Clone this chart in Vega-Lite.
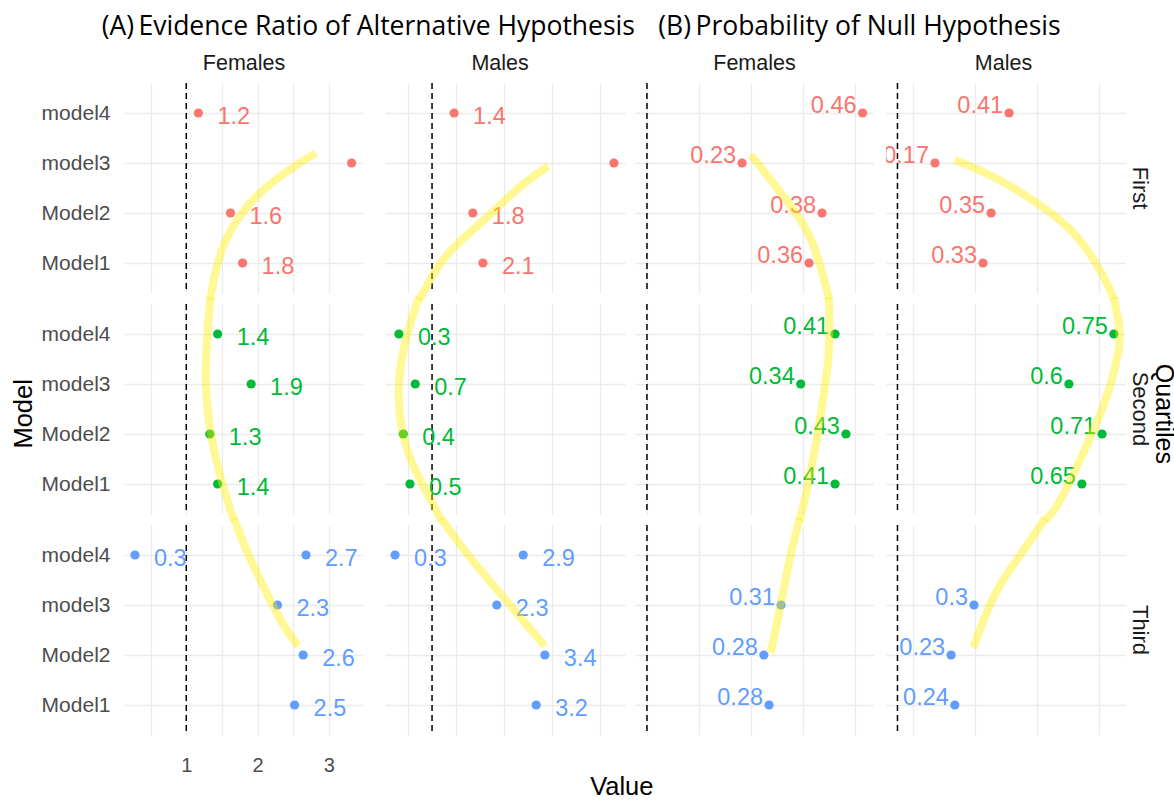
{
  "$schema": "https://vega.github.io/schema/vega-lite/v6.json",
  "background": "white",
  "padding": {"left": 11, "top": 14, "right": 0, "bottom": 0},
  "title": {"text": "Value", "orient": "bottom", "anchor": "middle", "dx": 28, "font": "Liberation Sans", "fontSize": 25.5, "fontWeight": "normal", "color": "#000000", "offset": 0},
  "datasets": {
    "d": [
      {"kind": "pt", "Panel": "A", "Sex": "Females", "Quartile": "First", "Model": "model4", "Value": 1.17, "Label": "1.2"},
      {"kind": "pt", "Panel": "A", "Sex": "Females", "Quartile": "First", "Model": "model3", "Value": 3.32, "Label": "3.3"},
      {"kind": "pt", "Panel": "A", "Sex": "Females", "Quartile": "First", "Model": "Model2", "Value": 1.62, "Label": "1.6"},
      {"kind": "pt", "Panel": "A", "Sex": "Females", "Quartile": "First", "Model": "Model1", "Value": 1.79, "Label": "1.8"},
      {"kind": "pt", "Panel": "A", "Sex": "Females", "Quartile": "Second", "Model": "model4", "Value": 1.44, "Label": "1.4"},
      {"kind": "pt", "Panel": "A", "Sex": "Females", "Quartile": "Second", "Model": "model3", "Value": 1.91, "Label": "1.9"},
      {"kind": "pt", "Panel": "A", "Sex": "Females", "Quartile": "Second", "Model": "Model2", "Value": 1.33, "Label": "1.3"},
      {"kind": "pt", "Panel": "A", "Sex": "Females", "Quartile": "Second", "Model": "Model1", "Value": 1.44, "Label": "1.4"},
      {"kind": "pt", "Panel": "A", "Sex": "Females", "Quartile": "Third", "Model": "model4", "Value": 0.28, "Label": "0.3"},
      {"kind": "pt", "Panel": "A", "Sex": "Females", "Quartile": "Third", "Model": "model4", "Value": 2.68, "Label": "2.7"},
      {"kind": "pt", "Panel": "A", "Sex": "Females", "Quartile": "Third", "Model": "model3", "Value": 2.28, "Label": "2.3"},
      {"kind": "pt", "Panel": "A", "Sex": "Females", "Quartile": "Third", "Model": "Model2", "Value": 2.64, "Label": "2.6"},
      {"kind": "pt", "Panel": "A", "Sex": "Females", "Quartile": "Third", "Model": "Model1", "Value": 2.52, "Label": "2.5"},
      {"kind": "pt", "Panel": "A", "Sex": "Males", "Quartile": "First", "Model": "model4", "Value": 1.46, "Label": "1.4"},
      {"kind": "pt", "Panel": "A", "Sex": "Males", "Quartile": "First", "Model": "model3", "Value": 4.79, "Label": "4.8"},
      {"kind": "pt", "Panel": "A", "Sex": "Males", "Quartile": "First", "Model": "Model2", "Value": 1.85, "Label": "1.8"},
      {"kind": "pt", "Panel": "A", "Sex": "Males", "Quartile": "First", "Model": "Model1", "Value": 2.06, "Label": "2.1"},
      {"kind": "pt", "Panel": "A", "Sex": "Males", "Quartile": "Second", "Model": "model4", "Value": 0.31, "Label": "0.3"},
      {"kind": "pt", "Panel": "A", "Sex": "Males", "Quartile": "Second", "Model": "model3", "Value": 0.65, "Label": "0.7"},
      {"kind": "pt", "Panel": "A", "Sex": "Males", "Quartile": "Second", "Model": "Model2", "Value": 0.40, "Label": "0.4"},
      {"kind": "pt", "Panel": "A", "Sex": "Males", "Quartile": "Second", "Model": "Model1", "Value": 0.54, "Label": "0.5"},
      {"kind": "pt", "Panel": "A", "Sex": "Males", "Quartile": "Third", "Model": "model4", "Value": 0.23, "Label": "0.3"},
      {"kind": "pt", "Panel": "A", "Sex": "Males", "Quartile": "Third", "Model": "model4", "Value": 2.90, "Label": "2.9"},
      {"kind": "pt", "Panel": "A", "Sex": "Males", "Quartile": "Third", "Model": "model3", "Value": 2.35, "Label": "2.3"},
      {"kind": "pt", "Panel": "A", "Sex": "Males", "Quartile": "Third", "Model": "Model2", "Value": 3.35, "Label": "3.4"},
      {"kind": "pt", "Panel": "A", "Sex": "Males", "Quartile": "Third", "Model": "Model1", "Value": 3.17, "Label": "3.2"},
      {"kind": "pt", "Panel": "B", "Sex": "Females", "Quartile": "First", "Model": "model4", "Value": 0.465, "Label": "0.46"},
      {"kind": "pt", "Panel": "B", "Sex": "Females", "Quartile": "First", "Model": "model3", "Value": 0.233, "Label": "0.23"},
      {"kind": "pt", "Panel": "B", "Sex": "Females", "Quartile": "First", "Model": "Model2", "Value": 0.387, "Label": "0.38"},
      {"kind": "pt", "Panel": "B", "Sex": "Females", "Quartile": "First", "Model": "Model1", "Value": 0.362, "Label": "0.36"},
      {"kind": "pt", "Panel": "B", "Sex": "Females", "Quartile": "Second", "Model": "model4", "Value": 0.412, "Label": "0.41"},
      {"kind": "pt", "Panel": "B", "Sex": "Females", "Quartile": "Second", "Model": "model3", "Value": 0.346, "Label": "0.34"},
      {"kind": "pt", "Panel": "B", "Sex": "Females", "Quartile": "Second", "Model": "Model2", "Value": 0.433, "Label": "0.43"},
      {"kind": "pt", "Panel": "B", "Sex": "Females", "Quartile": "Second", "Model": "Model1", "Value": 0.412, "Label": "0.41"},
      {"kind": "pt", "Panel": "B", "Sex": "Females", "Quartile": "Third", "Model": "model3", "Value": 0.308, "Label": "0.31"},
      {"kind": "pt", "Panel": "B", "Sex": "Females", "Quartile": "Third", "Model": "Model2", "Value": 0.275, "Label": "0.28"},
      {"kind": "pt", "Panel": "B", "Sex": "Females", "Quartile": "Third", "Model": "Model1", "Value": 0.285, "Label": "0.28"},
      {"kind": "pt", "Panel": "B", "Sex": "Males", "Quartile": "First", "Model": "model4", "Value": 0.41, "Label": "0.41"},
      {"kind": "pt", "Panel": "B", "Sex": "Males", "Quartile": "First", "Model": "model3", "Value": 0.171, "Label": "0.17"},
      {"kind": "pt", "Panel": "B", "Sex": "Males", "Quartile": "First", "Model": "Model2", "Value": 0.352, "Label": "0.35"},
      {"kind": "pt", "Panel": "B", "Sex": "Males", "Quartile": "First", "Model": "Model1", "Value": 0.326, "Label": "0.33"},
      {"kind": "pt", "Panel": "B", "Sex": "Males", "Quartile": "Second", "Model": "model4", "Value": 0.748, "Label": "0.75"},
      {"kind": "pt", "Panel": "B", "Sex": "Males", "Quartile": "Second", "Model": "model3", "Value": 0.603, "Label": "0.6"},
      {"kind": "pt", "Panel": "B", "Sex": "Males", "Quartile": "Second", "Model": "Model2", "Value": 0.71, "Label": "0.71"},
      {"kind": "pt", "Panel": "B", "Sex": "Males", "Quartile": "Second", "Model": "Model1", "Value": 0.645, "Label": "0.65"},
      {"kind": "pt", "Panel": "B", "Sex": "Males", "Quartile": "Third", "Model": "model3", "Value": 0.297, "Label": "0.3"},
      {"kind": "pt", "Panel": "B", "Sex": "Males", "Quartile": "Third", "Model": "Model2", "Value": 0.223, "Label": "0.23"},
      {"kind": "pt", "Panel": "B", "Sex": "Males", "Quartile": "Third", "Model": "Model1", "Value": 0.235, "Label": "0.24"},

      {"kind": "vl", "Panel": "A", "Sex": "Females", "Quartile": "First", "Ref": 1},
      {"kind": "vl", "Panel": "A", "Sex": "Females", "Quartile": "Second", "Ref": 1},
      {"kind": "vl", "Panel": "A", "Sex": "Females", "Quartile": "Third", "Ref": 1},
      {"kind": "vl", "Panel": "A", "Sex": "Males", "Quartile": "First", "Ref": 1},
      {"kind": "vl", "Panel": "A", "Sex": "Males", "Quartile": "Second", "Ref": 1},
      {"kind": "vl", "Panel": "A", "Sex": "Males", "Quartile": "Third", "Ref": 1},
      {"kind": "vl", "Panel": "B", "Sex": "Females", "Quartile": "First", "Ref": 0.05},
      {"kind": "vl", "Panel": "B", "Sex": "Females", "Quartile": "Second", "Ref": 0.05},
      {"kind": "vl", "Panel": "B", "Sex": "Females", "Quartile": "Third", "Ref": 0.05},
      {"kind": "vl", "Panel": "B", "Sex": "Males", "Quartile": "First", "Ref": 0.05},
      {"kind": "vl", "Panel": "B", "Sex": "Males", "Quartile": "Second", "Ref": 0.05},
      {"kind": "vl", "Panel": "B", "Sex": "Males", "Quartile": "Third", "Ref": 0.05},

      {"kind": "cv", "Panel": "A", "Sex": "Females", "Quartile": "First", "cx": 2.82, "cy": 3.2},
      {"kind": "cv", "Panel": "A", "Sex": "Females", "Quartile": "First", "cx": 2.43, "cy": 2.86},
      {"kind": "cv", "Panel": "A", "Sex": "Females", "Quartile": "First", "cx": 2.01, "cy": 2.4},
      {"kind": "cv", "Panel": "A", "Sex": "Females", "Quartile": "First", "cx": 1.73, "cy": 1.92},
      {"kind": "cv", "Panel": "A", "Sex": "Females", "Quartile": "First", "cx": 1.54, "cy": 1.46},
      {"kind": "cv", "Panel": "A", "Sex": "Females", "Quartile": "First", "cx": 1.42, "cy": 0.92},
      {"kind": "cv", "Panel": "A", "Sex": "Females", "Quartile": "First", "cx": 1.35, "cy": 0.4},
      {"kind": "cv", "Panel": "A", "Sex": "Females", "Quartile": "First", "cx": 1.34, "cy": 0.27},
      {"kind": "cv", "Panel": "A", "Sex": "Females", "Quartile": "Second", "cx": 1.34, "cy": 4.73},
      {"kind": "cv", "Panel": "A", "Sex": "Females", "Quartile": "Second", "cx": 1.29, "cy": 4.0},
      {"kind": "cv", "Panel": "A", "Sex": "Females", "Quartile": "Second", "cx": 1.26, "cy": 3.02},
      {"kind": "cv", "Panel": "A", "Sex": "Females", "Quartile": "Second", "cx": 1.32, "cy": 2.12},
      {"kind": "cv", "Panel": "A", "Sex": "Females", "Quartile": "Second", "cx": 1.44, "cy": 1.32},
      {"kind": "cv", "Panel": "A", "Sex": "Females", "Quartile": "Second", "cx": 1.61, "cy": 0.52},
      {"kind": "cv", "Panel": "A", "Sex": "Females", "Quartile": "Second", "cx": 1.67, "cy": 0.27},
      {"kind": "cv", "Panel": "A", "Sex": "Females", "Quartile": "Third", "cx": 1.67, "cy": 4.73},
      {"kind": "cv", "Panel": "A", "Sex": "Females", "Quartile": "Third", "cx": 1.87, "cy": 3.98},
      {"kind": "cv", "Panel": "A", "Sex": "Females", "Quartile": "Third", "cx": 2.15, "cy": 3.18},
      {"kind": "cv", "Panel": "A", "Sex": "Females", "Quartile": "Third", "cx": 2.36, "cy": 2.58},
      {"kind": "cv", "Panel": "A", "Sex": "Females", "Quartile": "Third", "cx": 2.57, "cy": 2.18},

      {"kind": "cv", "Panel": "A", "Sex": "Males", "Quartile": "First", "cx": 3.42, "cy": 2.94},
      {"kind": "cv", "Panel": "A", "Sex": "Males", "Quartile": "First", "cx": 3.0, "cy": 2.66},
      {"kind": "cv", "Panel": "A", "Sex": "Males", "Quartile": "First", "cx": 2.58, "cy": 2.32},
      {"kind": "cv", "Panel": "A", "Sex": "Males", "Quartile": "First", "cx": 2.1, "cy": 1.86},
      {"kind": "cv", "Panel": "A", "Sex": "Males", "Quartile": "First", "cx": 1.6, "cy": 1.46},
      {"kind": "cv", "Panel": "A", "Sex": "Males", "Quartile": "First", "cx": 1.19, "cy": 1.06},
      {"kind": "cv", "Panel": "A", "Sex": "Males", "Quartile": "First", "cx": 0.81, "cy": 0.4},
      {"kind": "cv", "Panel": "A", "Sex": "Males", "Quartile": "First", "cx": 0.73, "cy": 0.27},
      {"kind": "cv", "Panel": "A", "Sex": "Males", "Quartile": "Second", "cx": 0.73, "cy": 4.73},
      {"kind": "cv", "Panel": "A", "Sex": "Males", "Quartile": "Second", "cx": 0.46, "cy": 4.0},
      {"kind": "cv", "Panel": "A", "Sex": "Males", "Quartile": "Second", "cx": 0.27, "cy": 3.02},
      {"kind": "cv", "Panel": "A", "Sex": "Males", "Quartile": "Second", "cx": 0.33, "cy": 2.12},
      {"kind": "cv", "Panel": "A", "Sex": "Males", "Quartile": "Second", "cx": 0.6, "cy": 1.32},
      {"kind": "cv", "Panel": "A", "Sex": "Males", "Quartile": "Second", "cx": 1.02, "cy": 0.62},
      {"kind": "cv", "Panel": "A", "Sex": "Males", "Quartile": "Second", "cx": 1.19, "cy": 0.27},
      {"kind": "cv", "Panel": "A", "Sex": "Males", "Quartile": "Third", "cx": 1.19, "cy": 4.73},
      {"kind": "cv", "Panel": "A", "Sex": "Males", "Quartile": "Third", "cx": 1.75, "cy": 3.98},
      {"kind": "cv", "Panel": "A", "Sex": "Males", "Quartile": "Third", "cx": 2.38, "cy": 3.28},
      {"kind": "cv", "Panel": "A", "Sex": "Males", "Quartile": "Third", "cx": 2.9, "cy": 2.68},
      {"kind": "cv", "Panel": "A", "Sex": "Males", "Quartile": "Third", "cx": 3.35, "cy": 2.18},

      {"kind": "cv", "Panel": "B", "Sex": "Females", "Quartile": "First", "cx": 0.25, "cy": 3.16},
      {"kind": "cv", "Panel": "B", "Sex": "Females", "Quartile": "First", "cx": 0.273, "cy": 2.86},
      {"kind": "cv", "Panel": "B", "Sex": "Females", "Quartile": "First", "cx": 0.304, "cy": 2.46},
      {"kind": "cv", "Panel": "B", "Sex": "Females", "Quartile": "First", "cx": 0.337, "cy": 2.0},
      {"kind": "cv", "Panel": "B", "Sex": "Females", "Quartile": "First", "cx": 0.362, "cy": 1.6},
      {"kind": "cv", "Panel": "B", "Sex": "Females", "Quartile": "First", "cx": 0.381, "cy": 1.06},
      {"kind": "cv", "Panel": "B", "Sex": "Females", "Quartile": "First", "cx": 0.398, "cy": 0.4},
      {"kind": "cv", "Panel": "B", "Sex": "Females", "Quartile": "First", "cx": 0.4, "cy": 0.27},
      {"kind": "cv", "Panel": "B", "Sex": "Females", "Quartile": "Second", "cx": 0.4, "cy": 4.73},
      {"kind": "cv", "Panel": "B", "Sex": "Females", "Quartile": "Second", "cx": 0.402, "cy": 4.12},
      {"kind": "cv", "Panel": "B", "Sex": "Females", "Quartile": "Second", "cx": 0.4, "cy": 3.46},
      {"kind": "cv", "Panel": "B", "Sex": "Females", "Quartile": "Second", "cx": 0.39, "cy": 2.78},
      {"kind": "cv", "Panel": "B", "Sex": "Females", "Quartile": "Second", "cx": 0.381, "cy": 2.12},
      {"kind": "cv", "Panel": "B", "Sex": "Females", "Quartile": "Second", "cx": 0.369, "cy": 1.46},
      {"kind": "cv", "Panel": "B", "Sex": "Females", "Quartile": "Second", "cx": 0.356, "cy": 0.78},
      {"kind": "cv", "Panel": "B", "Sex": "Females", "Quartile": "Second", "cx": 0.344, "cy": 0.27},
      {"kind": "cv", "Panel": "B", "Sex": "Females", "Quartile": "Third", "cx": 0.344, "cy": 4.73},
      {"kind": "cv", "Panel": "B", "Sex": "Females", "Quartile": "Third", "cx": 0.323, "cy": 3.88},
      {"kind": "cv", "Panel": "B", "Sex": "Females", "Quartile": "Third", "cx": 0.308, "cy": 3.02},
      {"kind": "cv", "Panel": "B", "Sex": "Females", "Quartile": "Third", "cx": 0.288, "cy": 2.04},

      {"kind": "cv", "Panel": "B", "Sex": "Males", "Quartile": "First", "cx": 0.235, "cy": 3.06},
      {"kind": "cv", "Panel": "B", "Sex": "Males", "Quartile": "First", "cx": 0.332, "cy": 2.82},
      {"kind": "cv", "Panel": "B", "Sex": "Males", "Quartile": "First", "cx": 0.439, "cy": 2.46},
      {"kind": "cv", "Panel": "B", "Sex": "Males", "Quartile": "First", "cx": 0.548, "cy": 2.0},
      {"kind": "cv", "Panel": "B", "Sex": "Males", "Quartile": "First", "cx": 0.623, "cy": 1.6},
      {"kind": "cv", "Panel": "B", "Sex": "Males", "Quartile": "First", "cx": 0.687, "cy": 1.06},
      {"kind": "cv", "Panel": "B", "Sex": "Males", "Quartile": "First", "cx": 0.742, "cy": 0.4},
      {"kind": "cv", "Panel": "B", "Sex": "Males", "Quartile": "First", "cx": 0.748, "cy": 0.27},
      {"kind": "cv", "Panel": "B", "Sex": "Males", "Quartile": "Second", "cx": 0.748, "cy": 4.73},
      {"kind": "cv", "Panel": "B", "Sex": "Males", "Quartile": "Second", "cx": 0.768, "cy": 4.12},
      {"kind": "cv", "Panel": "B", "Sex": "Males", "Quartile": "Second", "cx": 0.768, "cy": 3.78},
      {"kind": "cv", "Panel": "B", "Sex": "Males", "Quartile": "Second", "cx": 0.745, "cy": 3.12},
      {"kind": "cv", "Panel": "B", "Sex": "Males", "Quartile": "Second", "cx": 0.71, "cy": 2.46},
      {"kind": "cv", "Panel": "B", "Sex": "Males", "Quartile": "Second", "cx": 0.661, "cy": 1.78},
      {"kind": "cv", "Panel": "B", "Sex": "Males", "Quartile": "Second", "cx": 0.613, "cy": 1.12},
      {"kind": "cv", "Panel": "B", "Sex": "Males", "Quartile": "Second", "cx": 0.558, "cy": 0.46},
      {"kind": "cv", "Panel": "B", "Sex": "Males", "Quartile": "Second", "cx": 0.526, "cy": 0.27},
      {"kind": "cv", "Panel": "B", "Sex": "Males", "Quartile": "Third", "cx": 0.526, "cy": 4.73},
      {"kind": "cv", "Panel": "B", "Sex": "Males", "Quartile": "Third", "cx": 0.445, "cy": 3.98},
      {"kind": "cv", "Panel": "B", "Sex": "Males", "Quartile": "Third", "cx": 0.374, "cy": 3.38},
      {"kind": "cv", "Panel": "B", "Sex": "Males", "Quartile": "Third", "cx": 0.326, "cy": 2.68},
      {"kind": "cv", "Panel": "B", "Sex": "Males", "Quartile": "Third", "cx": 0.294, "cy": 2.14}
    ]
  },
  "data": {"name": "d"},
  "spacing": -2,
  "resolve": {"scale": {"x": "independent", "y": "independent"}, "axis": {"x": "independent", "y": "independent"}},
  "hconcat": [
    {
      "title": {"text": "(A)\u2009Evidence Ratio of Alternative Hypothesis", "anchor": "middle", "dx": 50, "offset": 12},
      "spacing": 12,
      "resolve": {"scale": {"x": "independent", "y": "independent"}, "axis": {"x": "independent", "y": "independent"}},
      "hconcat": [
        {
          "title": {"text": "Model", "orient": "left", "anchor": "middle", "font": "Liberation Sans", "fontSize": 25.5, "offset": 4},
          "resolve": {"scale": {"x": "independent", "y": "independent"}, "axis": {"x": "independent", "y": "independent"}},
          "hconcat": [
            {
              "title": {"text": "Females", "anchor": "middle", "dx": 42, "font": "Liberation Sans", "fontSize": 21.5, "color": "#1a1a1a", "offset": 8},
              "spacing": -16,
              "resolve": {"scale": {"x": "independent", "y": "independent"}, "axis": {"x": "independent", "y": "independent"}},
              "vconcat": [
                {
                  "width": 239, "height": 210,
                  "transform": [{"filter": "datum.Panel === 'A' && datum.Sex === 'Females' && datum.Quartile === 'First'"}],
                  "layer": [
                    {"transform": [{"filter": "datum.kind === 'vl'"}], "mark": {"type": "rule", "color": "#000000", "strokeDash": [6, 4], "strokeWidth": 1.5},
                     "encoding": {"x": {"field": "Ref", "type": "quantitative", "scale": {"domain": [0.126, 3.48], "nice": false, "zero": false}, "axis": {"title": null, "values": [0.5, 1, 1.5, 2, 2.5, 3], "labels": false, "grid": true}}}},
                    {"transform": [{"filter": "datum.kind === 'pt'"}], "mark": {"type": "circle", "size": 85, "opacity": 1},
                     "encoding": {"x": {"field": "Value", "type": "quantitative", "axis": {"title": null}}, "y": {"field": "Model", "type": "nominal", "scale": {"type": "point", "padding": 0.6, "domain": ["model4", "model3", "Model2", "Model1"]}, "axis": {"title": null, "grid": true, "labelPadding": 14}}, "color": {"field": "Quartile", "type": "nominal", "scale": {"domain": ["First", "Second", "Third"], "range": ["#F8766D", "#00BA38", "#619CFF"]}, "legend": null}}},
                    {"transform": [{"filter": "datum.kind === 'pt'"}], "mark": {"type": "text", "align": "left", "baseline": "middle", "dx": 19, "dy": 4, "fontSize": 23.5, "clip": true},
                     "encoding": {"x": {"field": "Value", "type": "quantitative", "axis": {"title": null}}, "y": {"field": "Model", "type": "nominal", "scale": {"type": "point", "padding": 0.6, "domain": ["model4", "model3", "Model2", "Model1"]}, "axis": null}, "text": {"field": "Label"}, "color": {"field": "Quartile", "type": "nominal", "scale": {"domain": ["First", "Second", "Third"], "range": ["#F8766D", "#00BA38", "#619CFF"]}, "legend": null}}},
                    {"transform": [{"filter": "datum.kind === 'cv'"}], "mark": {"type": "line", "interpolate": "basis", "color": "#ffee00", "opacity": 0.42, "strokeWidth": 8, "strokeCap": "butt", "strokeJoin": "round", "clip": false},
                     "encoding": {"x": {"field": "cx", "type": "quantitative", "axis": {"title": null}}, "y": {"field": "cy", "type": "quantitative", "scale": {"domain": [0.4, 4.6], "nice": false, "zero": false}, "axis": null}, "order": {"field": "cy", "sort": "descending"}}}
                  ],
                  "resolve": {"scale": {"y": "independent"}, "axis": {"y": "independent"}}
                },
                {
                  "width": 239, "height": 210,
                  "transform": [{"filter": "datum.Panel === 'A' && datum.Sex === 'Females' && datum.Quartile === 'Second'"}],
                  "layer": [
                    {"transform": [{"filter": "datum.kind === 'vl'"}], "mark": {"type": "rule", "color": "#000000", "strokeDash": [6, 4], "strokeWidth": 1.5},
                     "encoding": {"x": {"field": "Ref", "type": "quantitative", "scale": {"domain": [0.126, 3.48], "nice": false, "zero": false}, "axis": {"title": null, "values": [0.5, 1, 1.5, 2, 2.5, 3], "labels": false, "grid": true}}}},
                    {"transform": [{"filter": "datum.kind === 'pt'"}], "mark": {"type": "circle", "size": 85, "opacity": 1},
                     "encoding": {"x": {"field": "Value", "type": "quantitative", "axis": {"title": null}}, "y": {"field": "Model", "type": "nominal", "scale": {"type": "point", "padding": 0.6, "domain": ["model4", "model3", "Model2", "Model1"]}, "axis": {"title": null, "grid": true, "labelPadding": 14}}, "color": {"field": "Quartile", "type": "nominal", "scale": {"domain": ["First", "Second", "Third"], "range": ["#F8766D", "#00BA38", "#619CFF"]}, "legend": null}}},
                    {"transform": [{"filter": "datum.kind === 'pt'"}], "mark": {"type": "text", "align": "left", "baseline": "middle", "dx": 19, "dy": 4, "fontSize": 23.5, "clip": true},
                     "encoding": {"x": {"field": "Value", "type": "quantitative", "axis": {"title": null}}, "y": {"field": "Model", "type": "nominal", "scale": {"type": "point", "padding": 0.6, "domain": ["model4", "model3", "Model2", "Model1"]}, "axis": null}, "text": {"field": "Label"}, "color": {"field": "Quartile", "type": "nominal", "scale": {"domain": ["First", "Second", "Third"], "range": ["#F8766D", "#00BA38", "#619CFF"]}, "legend": null}}},
                    {"transform": [{"filter": "datum.kind === 'cv'"}], "mark": {"type": "line", "interpolate": "basis", "color": "#ffee00", "opacity": 0.42, "strokeWidth": 8, "strokeCap": "butt", "strokeJoin": "round", "clip": false},
                     "encoding": {"x": {"field": "cx", "type": "quantitative", "axis": {"title": null}}, "y": {"field": "cy", "type": "quantitative", "scale": {"domain": [0.4, 4.6], "nice": false, "zero": false}, "axis": null}, "order": {"field": "cy", "sort": "descending"}}}
                  ],
                  "resolve": {"scale": {"y": "independent"}, "axis": {"y": "independent"}}
                },
                {
                  "width": 239, "height": 210,
                  "transform": [{"filter": "datum.Panel === 'A' && datum.Sex === 'Females' && datum.Quartile === 'Third'"}],
                  "layer": [
                    {"transform": [{"filter": "datum.kind === 'vl'"}], "mark": {"type": "rule", "color": "#000000", "strokeDash": [6, 4], "strokeWidth": 1.5},
                     "encoding": {"x": {"field": "Ref", "type": "quantitative", "scale": {"domain": [0.126, 3.48], "nice": false, "zero": false}, "axis": {"title": null, "values": [0.5, 1, 1.5, 2, 2.5, 3], "labelExpr": "datum.value % 1 === 0 ? format(datum.value, 'd') : ''", "labelOverlap": false, "grid": true}}}},
                    {"transform": [{"filter": "datum.kind === 'pt'"}], "mark": {"type": "circle", "size": 85, "opacity": 1},
                     "encoding": {"x": {"field": "Value", "type": "quantitative", "axis": {"title": null}}, "y": {"field": "Model", "type": "nominal", "scale": {"type": "point", "padding": 0.6, "domain": ["model4", "model3", "Model2", "Model1"]}, "axis": {"title": null, "grid": true, "labelPadding": 14}}, "color": {"field": "Quartile", "type": "nominal", "scale": {"domain": ["First", "Second", "Third"], "range": ["#F8766D", "#00BA38", "#619CFF"]}, "legend": null}}},
                    {"transform": [{"filter": "datum.kind === 'pt'"}], "mark": {"type": "text", "align": "left", "baseline": "middle", "dx": 19, "dy": 4, "fontSize": 23.5, "clip": true},
                     "encoding": {"x": {"field": "Value", "type": "quantitative", "axis": {"title": null}}, "y": {"field": "Model", "type": "nominal", "scale": {"type": "point", "padding": 0.6, "domain": ["model4", "model3", "Model2", "Model1"]}, "axis": null}, "text": {"field": "Label"}, "color": {"field": "Quartile", "type": "nominal", "scale": {"domain": ["First", "Second", "Third"], "range": ["#F8766D", "#00BA38", "#619CFF"]}, "legend": null}}},
                    {"transform": [{"filter": "datum.kind === 'cv'"}], "mark": {"type": "line", "interpolate": "basis", "color": "#ffee00", "opacity": 0.42, "strokeWidth": 8, "strokeCap": "butt", "strokeJoin": "round", "clip": false},
                     "encoding": {"x": {"field": "cx", "type": "quantitative", "axis": {"title": null}}, "y": {"field": "cy", "type": "quantitative", "scale": {"domain": [0.4, 4.6], "nice": false, "zero": false}, "axis": null}, "order": {"field": "cy", "sort": "descending"}}}
                  ],
                  "resolve": {"scale": {"y": "independent"}, "axis": {"y": "independent"}}
                }
              ]
            }
          ]
        },
        {
          "title": {"text": "Males", "anchor": "middle", "font": "Liberation Sans", "fontSize": 21.5, "color": "#1a1a1a", "offset": 8},
          "spacing": -16,
          "resolve": {"scale": {"x": "independent", "y": "independent"}, "axis": {"x": "independent", "y": "independent"}},
          "vconcat": [
            {
              "width": 240, "height": 210,
              "transform": [{"filter": "datum.Panel === 'A' && datum.Sex === 'Males' && datum.Quartile === 'First'"}],
              "layer": [
                {"transform": [{"filter": "datum.kind === 'vl'"}], "mark": {"type": "rule", "color": "#000000", "strokeDash": [6, 4], "strokeWidth": 1.5},
                 "encoding": {"x": {"field": "Ref", "type": "quantitative", "scale": {"domain": [0.02, 5.02], "nice": false, "zero": false}, "axis": {"title": null, "values": [0.5, 1, 1.5, 2, 2.5, 3, 3.5, 4, 4.5], "labels": false, "grid": true}}}},
                {"transform": [{"filter": "datum.kind === 'pt'"}], "mark": {"type": "circle", "size": 85, "opacity": 1},
                 "encoding": {"x": {"field": "Value", "type": "quantitative", "axis": {"title": null}}, "y": {"field": "Model", "type": "nominal", "scale": {"type": "point", "padding": 0.6, "domain": ["model4", "model3", "Model2", "Model1"]}, "axis": {"title": null, "grid": true, "labelColor": "#ffffff", "labelFontSize": 3, "labelPadding": 0}}, "color": {"field": "Quartile", "type": "nominal", "scale": {"domain": ["First", "Second", "Third"], "range": ["#F8766D", "#00BA38", "#619CFF"]}, "legend": null}}},
                {"transform": [{"filter": "datum.kind === 'pt'"}], "mark": {"type": "text", "align": "left", "baseline": "middle", "dx": 19, "dy": 4, "fontSize": 23.5, "clip": true},
                 "encoding": {"x": {"field": "Value", "type": "quantitative", "axis": {"title": null}}, "y": {"field": "Model", "type": "nominal", "scale": {"type": "point", "padding": 0.6, "domain": ["model4", "model3", "Model2", "Model1"]}, "axis": null}, "text": {"field": "Label"}, "color": {"field": "Quartile", "type": "nominal", "scale": {"domain": ["First", "Second", "Third"], "range": ["#F8766D", "#00BA38", "#619CFF"]}, "legend": null}}},
                {"transform": [{"filter": "datum.kind === 'cv'"}], "mark": {"type": "line", "interpolate": "basis", "color": "#ffee00", "opacity": 0.42, "strokeWidth": 8, "strokeCap": "butt", "strokeJoin": "round", "clip": false},
                 "encoding": {"x": {"field": "cx", "type": "quantitative", "axis": {"title": null}}, "y": {"field": "cy", "type": "quantitative", "scale": {"domain": [0.4, 4.6], "nice": false, "zero": false}, "axis": null}, "order": {"field": "cy", "sort": "descending"}}}
              ],
              "resolve": {"scale": {"y": "independent"}, "axis": {"y": "independent"}}
            },
            {
              "width": 240, "height": 210,
              "transform": [{"filter": "datum.Panel === 'A' && datum.Sex === 'Males' && datum.Quartile === 'Second'"}],
              "layer": [
                {"transform": [{"filter": "datum.kind === 'vl'"}], "mark": {"type": "rule", "color": "#000000", "strokeDash": [6, 4], "strokeWidth": 1.5},
                 "encoding": {"x": {"field": "Ref", "type": "quantitative", "scale": {"domain": [0.02, 5.02], "nice": false, "zero": false}, "axis": {"title": null, "values": [0.5, 1, 1.5, 2, 2.5, 3, 3.5, 4, 4.5], "labels": false, "grid": true}}}},
                {"transform": [{"filter": "datum.kind === 'pt'"}], "mark": {"type": "circle", "size": 85, "opacity": 1},
                 "encoding": {"x": {"field": "Value", "type": "quantitative", "axis": {"title": null}}, "y": {"field": "Model", "type": "nominal", "scale": {"type": "point", "padding": 0.6, "domain": ["model4", "model3", "Model2", "Model1"]}, "axis": {"title": null, "grid": true, "labelColor": "#ffffff", "labelFontSize": 3, "labelPadding": 0}}, "color": {"field": "Quartile", "type": "nominal", "scale": {"domain": ["First", "Second", "Third"], "range": ["#F8766D", "#00BA38", "#619CFF"]}, "legend": null}}},
                {"transform": [{"filter": "datum.kind === 'pt'"}], "mark": {"type": "text", "align": "left", "baseline": "middle", "dx": 19, "dy": 4, "fontSize": 23.5, "clip": true},
                 "encoding": {"x": {"field": "Value", "type": "quantitative", "axis": {"title": null}}, "y": {"field": "Model", "type": "nominal", "scale": {"type": "point", "padding": 0.6, "domain": ["model4", "model3", "Model2", "Model1"]}, "axis": null}, "text": {"field": "Label"}, "color": {"field": "Quartile", "type": "nominal", "scale": {"domain": ["First", "Second", "Third"], "range": ["#F8766D", "#00BA38", "#619CFF"]}, "legend": null}}},
                {"transform": [{"filter": "datum.kind === 'cv'"}], "mark": {"type": "line", "interpolate": "basis", "color": "#ffee00", "opacity": 0.42, "strokeWidth": 8, "strokeCap": "butt", "strokeJoin": "round", "clip": false},
                 "encoding": {"x": {"field": "cx", "type": "quantitative", "axis": {"title": null}}, "y": {"field": "cy", "type": "quantitative", "scale": {"domain": [0.4, 4.6], "nice": false, "zero": false}, "axis": null}, "order": {"field": "cy", "sort": "descending"}}}
              ],
              "resolve": {"scale": {"y": "independent"}, "axis": {"y": "independent"}}
            },
            {
              "width": 240, "height": 210,
              "transform": [{"filter": "datum.Panel === 'A' && datum.Sex === 'Males' && datum.Quartile === 'Third'"}],
              "layer": [
                {"transform": [{"filter": "datum.kind === 'vl'"}], "mark": {"type": "rule", "color": "#000000", "strokeDash": [6, 4], "strokeWidth": 1.5},
                 "encoding": {"x": {"field": "Ref", "type": "quantitative", "scale": {"domain": [0.02, 5.02], "nice": false, "zero": false}, "axis": {"title": null, "values": [0.5, 1, 1.5, 2, 2.5, 3, 3.5, 4, 4.5], "labelExpr": "datum.value % 1 === 0 ? format(datum.value, 'd') : ''", "labelOverlap": false, "grid": true}}}},
                {"transform": [{"filter": "datum.kind === 'pt'"}], "mark": {"type": "circle", "size": 85, "opacity": 1},
                 "encoding": {"x": {"field": "Value", "type": "quantitative", "axis": {"title": null}}, "y": {"field": "Model", "type": "nominal", "scale": {"type": "point", "padding": 0.6, "domain": ["model4", "model3", "Model2", "Model1"]}, "axis": {"title": null, "grid": true, "labelColor": "#ffffff", "labelFontSize": 3, "labelPadding": 0}}, "color": {"field": "Quartile", "type": "nominal", "scale": {"domain": ["First", "Second", "Third"], "range": ["#F8766D", "#00BA38", "#619CFF"]}, "legend": null}}},
                {"transform": [{"filter": "datum.kind === 'pt'"}], "mark": {"type": "text", "align": "left", "baseline": "middle", "dx": 19, "dy": 4, "fontSize": 23.5, "clip": true},
                 "encoding": {"x": {"field": "Value", "type": "quantitative", "axis": {"title": null}}, "y": {"field": "Model", "type": "nominal", "scale": {"type": "point", "padding": 0.6, "domain": ["model4", "model3", "Model2", "Model1"]}, "axis": null}, "text": {"field": "Label"}, "color": {"field": "Quartile", "type": "nominal", "scale": {"domain": ["First", "Second", "Third"], "range": ["#F8766D", "#00BA38", "#619CFF"]}, "legend": null}}},
                {"transform": [{"filter": "datum.kind === 'cv'"}], "mark": {"type": "line", "interpolate": "basis", "color": "#ffee00", "opacity": 0.42, "strokeWidth": 8, "strokeCap": "butt", "strokeJoin": "round", "clip": false},
                 "encoding": {"x": {"field": "cx", "type": "quantitative", "axis": {"title": null}}, "y": {"field": "cy", "type": "quantitative", "scale": {"domain": [0.4, 4.6], "nice": false, "zero": false}, "axis": null}, "order": {"field": "cy", "sort": "descending"}}}
              ],
              "resolve": {"scale": {"y": "independent"}, "axis": {"y": "independent"}}
            }
          ]
        }
      ]
    },
    {
      "title": {"text": "(B)\u2009Probability of Null Hypothesis", "anchor": "middle", "dx": -46, "offset": 12},
      "spacing": 12,
      "resolve": {"scale": {"x": "independent", "y": "independent"}, "axis": {"x": "independent", "y": "independent"}},
      "hconcat": [
        {
          "title": {"text": "Females", "anchor": "middle", "font": "Liberation Sans", "fontSize": 21.5, "color": "#1a1a1a", "offset": 8},
          "spacing": -16,
          "resolve": {"scale": {"x": "independent", "y": "independent"}, "axis": {"x": "independent", "y": "independent"}},
          "vconcat": [
            {
              "width": 239, "height": 210,
              "transform": [{"filter": "datum.Panel === 'B' && datum.Sex === 'Females' && datum.Quartile === 'First'"}],
              "layer": [
                {"transform": [{"filter": "datum.kind === 'vl'"}], "mark": {"type": "rule", "color": "#000000", "strokeDash": [6, 4], "strokeWidth": 1.5},
                 "encoding": {"x": {"field": "Ref", "type": "quantitative", "scale": {"domain": [0.027, 0.487], "nice": false, "zero": false}, "axis": {"title": null, "values": [0.05, 0.1, 0.15, 0.2, 0.25, 0.3, 0.35, 0.4, 0.45], "labels": false, "grid": true}}}},
                {"transform": [{"filter": "datum.kind === 'pt'"}], "mark": {"type": "circle", "size": 85, "opacity": 1},
                 "encoding": {"x": {"field": "Value", "type": "quantitative", "axis": {"title": null}}, "y": {"field": "Model", "type": "nominal", "scale": {"type": "point", "padding": 0.6, "domain": ["model4", "model3", "Model2", "Model1"]}, "axis": {"title": null, "grid": true, "labelExpr": "''", "labelPadding": 0}}, "color": {"field": "Quartile", "type": "nominal", "scale": {"domain": ["First", "Second", "Third"], "range": ["#F8766D", "#00BA38", "#619CFF"]}, "legend": null}}},
                {"transform": [{"filter": "datum.kind === 'pt'"}], "mark": {"type": "text", "align": "right", "baseline": "middle", "dx": -6, "dy": -7, "fontSize": 23.5, "clip": true},
                 "encoding": {"x": {"field": "Value", "type": "quantitative", "axis": {"title": null}}, "y": {"field": "Model", "type": "nominal", "scale": {"type": "point", "padding": 0.6, "domain": ["model4", "model3", "Model2", "Model1"]}, "axis": null}, "text": {"field": "Label"}, "color": {"field": "Quartile", "type": "nominal", "scale": {"domain": ["First", "Second", "Third"], "range": ["#F8766D", "#00BA38", "#619CFF"]}, "legend": null}}},
                {"transform": [{"filter": "datum.kind === 'cv'"}], "mark": {"type": "line", "interpolate": "basis", "color": "#ffee00", "opacity": 0.42, "strokeWidth": 8, "strokeCap": "butt", "strokeJoin": "round", "clip": false},
                 "encoding": {"x": {"field": "cx", "type": "quantitative", "axis": {"title": null}}, "y": {"field": "cy", "type": "quantitative", "scale": {"domain": [0.4, 4.6], "nice": false, "zero": false}, "axis": null}, "order": {"field": "cy", "sort": "descending"}}}
              ],
              "resolve": {"scale": {"y": "independent"}, "axis": {"y": "independent"}}
            },
            {
              "width": 239, "height": 210,
              "transform": [{"filter": "datum.Panel === 'B' && datum.Sex === 'Females' && datum.Quartile === 'Second'"}],
              "layer": [
                {"transform": [{"filter": "datum.kind === 'vl'"}], "mark": {"type": "rule", "color": "#000000", "strokeDash": [6, 4], "strokeWidth": 1.5},
                 "encoding": {"x": {"field": "Ref", "type": "quantitative", "scale": {"domain": [0.027, 0.487], "nice": false, "zero": false}, "axis": {"title": null, "values": [0.05, 0.1, 0.15, 0.2, 0.25, 0.3, 0.35, 0.4, 0.45], "labels": false, "grid": true}}}},
                {"transform": [{"filter": "datum.kind === 'pt'"}], "mark": {"type": "circle", "size": 85, "opacity": 1},
                 "encoding": {"x": {"field": "Value", "type": "quantitative", "axis": {"title": null}}, "y": {"field": "Model", "type": "nominal", "scale": {"type": "point", "padding": 0.6, "domain": ["model4", "model3", "Model2", "Model1"]}, "axis": {"title": null, "grid": true, "labelExpr": "''", "labelPadding": 0}}, "color": {"field": "Quartile", "type": "nominal", "scale": {"domain": ["First", "Second", "Third"], "range": ["#F8766D", "#00BA38", "#619CFF"]}, "legend": null}}},
                {"transform": [{"filter": "datum.kind === 'pt'"}], "mark": {"type": "text", "align": "right", "baseline": "middle", "dx": -6, "dy": -7, "fontSize": 23.5, "clip": true},
                 "encoding": {"x": {"field": "Value", "type": "quantitative", "axis": {"title": null}}, "y": {"field": "Model", "type": "nominal", "scale": {"type": "point", "padding": 0.6, "domain": ["model4", "model3", "Model2", "Model1"]}, "axis": null}, "text": {"field": "Label"}, "color": {"field": "Quartile", "type": "nominal", "scale": {"domain": ["First", "Second", "Third"], "range": ["#F8766D", "#00BA38", "#619CFF"]}, "legend": null}}},
                {"transform": [{"filter": "datum.kind === 'cv'"}], "mark": {"type": "line", "interpolate": "basis", "color": "#ffee00", "opacity": 0.42, "strokeWidth": 8, "strokeCap": "butt", "strokeJoin": "round", "clip": false},
                 "encoding": {"x": {"field": "cx", "type": "quantitative", "axis": {"title": null}}, "y": {"field": "cy", "type": "quantitative", "scale": {"domain": [0.4, 4.6], "nice": false, "zero": false}, "axis": null}, "order": {"field": "cy", "sort": "descending"}}}
              ],
              "resolve": {"scale": {"y": "independent"}, "axis": {"y": "independent"}}
            },
            {
              "width": 239, "height": 210,
              "transform": [{"filter": "datum.Panel === 'B' && datum.Sex === 'Females' && datum.Quartile === 'Third'"}],
              "layer": [
                {"transform": [{"filter": "datum.kind === 'vl'"}], "mark": {"type": "rule", "color": "#000000", "strokeDash": [6, 4], "strokeWidth": 1.5},
                 "encoding": {"x": {"field": "Ref", "type": "quantitative", "scale": {"domain": [0.027, 0.487], "nice": false, "zero": false}, "axis": {"title": null}}}},
                {"transform": [{"filter": "datum.kind === 'pt'"}], "mark": {"type": "circle", "size": 85, "opacity": 1},
                 "encoding": {"x": {"field": "Value", "type": "quantitative", "axis": {"title": null, "values": [0.05, 0.1, 0.15, 0.2, 0.25, 0.3, 0.35, 0.4, 0.45], "labelExpr": "abs(datum.value * 10 - round(datum.value * 10)) < 0.000001 ? format(datum.value, '.1f') : ''", "labelOverlap": false, "grid": true}}, "y": {"field": "Model", "type": "nominal", "scale": {"type": "point", "padding": 0.6, "domain": ["model4", "model3", "Model2", "Model1"]}, "axis": {"title": null, "grid": true, "labelExpr": "''", "labelPadding": 0}}, "color": {"field": "Quartile", "type": "nominal", "scale": {"domain": ["First", "Second", "Third"], "range": ["#F8766D", "#00BA38", "#619CFF"]}, "legend": null}}},
                {"transform": [{"filter": "datum.kind === 'pt'"}], "mark": {"type": "text", "align": "right", "baseline": "middle", "dx": -6, "dy": -7, "fontSize": 23.5, "clip": true},
                 "encoding": {"x": {"field": "Value", "type": "quantitative", "axis": {"title": null}}, "y": {"field": "Model", "type": "nominal", "scale": {"type": "point", "padding": 0.6, "domain": ["model4", "model3", "Model2", "Model1"]}, "axis": null}, "text": {"field": "Label"}, "color": {"field": "Quartile", "type": "nominal", "scale": {"domain": ["First", "Second", "Third"], "range": ["#F8766D", "#00BA38", "#619CFF"]}, "legend": null}}},
                {"transform": [{"filter": "datum.kind === 'cv'"}], "mark": {"type": "line", "interpolate": "basis", "color": "#ffee00", "opacity": 0.42, "strokeWidth": 8, "strokeCap": "butt", "strokeJoin": "round", "clip": false},
                 "encoding": {"x": {"field": "cx", "type": "quantitative", "axis": {"title": null}}, "y": {"field": "cy", "type": "quantitative", "scale": {"domain": [0.4, 4.6], "nice": false, "zero": false}, "axis": null}, "order": {"field": "cy", "sort": "descending"}}}
              ],
              "resolve": {"scale": {"y": "independent"}, "axis": {"y": "independent"}}
            }
          ]
        },
        {
          "title": {"text": "Quartiles", "orient": "right", "anchor": "middle", "font": "Liberation Sans", "fontSize": 25, "offset": 0},
          "resolve": {"scale": {"x": "independent", "y": "independent"}, "axis": {"x": "independent", "y": "independent"}},
          "hconcat": [
            {
              "title": {"text": "Males", "anchor": "middle", "dx": -15, "font": "Liberation Sans", "fontSize": 21.5, "color": "#1a1a1a", "offset": 8},
              "spacing": -16,
              "resolve": {"scale": {"x": "independent", "y": "independent"}, "axis": {"x": "independent", "y": "independent"}},
              "vconcat": [
                {
                  "width": 239, "height": 210,
                  "title": {"text": "First", "orient": "right", "anchor": "middle", "font": "Liberation Sans", "fontSize": 22, "color": "#1a1a1a", "offset": 3},
                  "transform": [{"filter": "datum.Panel === 'B' && datum.Sex === 'Males' && datum.Quartile === 'First'"}],
                  "layer": [
                    {"transform": [{"filter": "datum.kind === 'vl'"}], "mark": {"type": "rule", "color": "#000000", "strokeDash": [6, 4], "strokeWidth": 1.5},
                     "encoding": {"x": {"field": "Ref", "type": "quantitative", "scale": {"domain": [0.013, 0.784], "nice": false, "zero": false}, "axis": {"title": null, "values": [0.1, 0.2, 0.3, 0.4, 0.5, 0.6, 0.7], "labels": false, "grid": true}}}},
                    {"transform": [{"filter": "datum.kind === 'pt'"}], "mark": {"type": "circle", "size": 85, "opacity": 1},
                     "encoding": {"x": {"field": "Value", "type": "quantitative", "axis": {"title": null}}, "y": {"field": "Model", "type": "nominal", "scale": {"type": "point", "padding": 0.6, "domain": ["model4", "model3", "Model2", "Model1"]}, "axis": {"title": null, "grid": true, "labelExpr": "''", "labelPadding": 0}}, "color": {"field": "Quartile", "type": "nominal", "scale": {"domain": ["First", "Second", "Third"], "range": ["#F8766D", "#00BA38", "#619CFF"]}, "legend": null}}},
                    {"transform": [{"filter": "datum.kind === 'pt'"}], "mark": {"type": "text", "align": "right", "baseline": "middle", "dx": -6, "dy": -7, "fontSize": 23.5, "clip": true},
                     "encoding": {"x": {"field": "Value", "type": "quantitative", "axis": {"title": null}}, "y": {"field": "Model", "type": "nominal", "scale": {"type": "point", "padding": 0.6, "domain": ["model4", "model3", "Model2", "Model1"]}, "axis": null}, "text": {"field": "Label"}, "color": {"field": "Quartile", "type": "nominal", "scale": {"domain": ["First", "Second", "Third"], "range": ["#F8766D", "#00BA38", "#619CFF"]}, "legend": null}}},
                    {"transform": [{"filter": "datum.kind === 'cv'"}], "mark": {"type": "line", "interpolate": "basis", "color": "#ffee00", "opacity": 0.42, "strokeWidth": 8, "strokeCap": "butt", "strokeJoin": "round", "clip": false},
                     "encoding": {"x": {"field": "cx", "type": "quantitative", "axis": {"title": null}}, "y": {"field": "cy", "type": "quantitative", "scale": {"domain": [0.4, 4.6], "nice": false, "zero": false}, "axis": null}, "order": {"field": "cy", "sort": "descending"}}}
                  ],
                  "resolve": {"scale": {"y": "independent"}, "axis": {"y": "independent"}}
                },
                {
                  "width": 239, "height": 210,
                  "title": {"text": "Second", "orient": "right", "anchor": "middle", "font": "Liberation Sans", "fontSize": 22, "color": "#1a1a1a", "offset": 3},
                  "transform": [{"filter": "datum.Panel === 'B' && datum.Sex === 'Males' && datum.Quartile === 'Second'"}],
                  "layer": [
                    {"transform": [{"filter": "datum.kind === 'vl'"}], "mark": {"type": "rule", "color": "#000000", "strokeDash": [6, 4], "strokeWidth": 1.5},
                     "encoding": {"x": {"field": "Ref", "type": "quantitative", "scale": {"domain": [0.013, 0.784], "nice": false, "zero": false}, "axis": {"title": null, "values": [0.1, 0.2, 0.3, 0.4, 0.5, 0.6, 0.7], "labels": false, "grid": true}}}},
                    {"transform": [{"filter": "datum.kind === 'pt'"}], "mark": {"type": "circle", "size": 85, "opacity": 1},
                     "encoding": {"x": {"field": "Value", "type": "quantitative", "axis": {"title": null}}, "y": {"field": "Model", "type": "nominal", "scale": {"type": "point", "padding": 0.6, "domain": ["model4", "model3", "Model2", "Model1"]}, "axis": {"title": null, "grid": true, "labelExpr": "''", "labelPadding": 0}}, "color": {"field": "Quartile", "type": "nominal", "scale": {"domain": ["First", "Second", "Third"], "range": ["#F8766D", "#00BA38", "#619CFF"]}, "legend": null}}},
                    {"transform": [{"filter": "datum.kind === 'pt'"}], "mark": {"type": "text", "align": "right", "baseline": "middle", "dx": -6, "dy": -7, "fontSize": 23.5, "clip": true},
                     "encoding": {"x": {"field": "Value", "type": "quantitative", "axis": {"title": null}}, "y": {"field": "Model", "type": "nominal", "scale": {"type": "point", "padding": 0.6, "domain": ["model4", "model3", "Model2", "Model1"]}, "axis": null}, "text": {"field": "Label"}, "color": {"field": "Quartile", "type": "nominal", "scale": {"domain": ["First", "Second", "Third"], "range": ["#F8766D", "#00BA38", "#619CFF"]}, "legend": null}}},
                    {"transform": [{"filter": "datum.kind === 'cv'"}], "mark": {"type": "line", "interpolate": "basis", "color": "#ffee00", "opacity": 0.42, "strokeWidth": 8, "strokeCap": "butt", "strokeJoin": "round", "clip": false},
                     "encoding": {"x": {"field": "cx", "type": "quantitative", "axis": {"title": null}}, "y": {"field": "cy", "type": "quantitative", "scale": {"domain": [0.4, 4.6], "nice": false, "zero": false}, "axis": null}, "order": {"field": "cy", "sort": "descending"}}}
                  ],
                  "resolve": {"scale": {"y": "independent"}, "axis": {"y": "independent"}}
                },
                {
                  "width": 239, "height": 210,
                  "title": {"text": "Third", "orient": "right", "anchor": "middle", "font": "Liberation Sans", "fontSize": 22, "color": "#1a1a1a", "offset": 3},
                  "transform": [{"filter": "datum.Panel === 'B' && datum.Sex === 'Males' && datum.Quartile === 'Third'"}],
                  "layer": [
                    {"transform": [{"filter": "datum.kind === 'vl'"}], "mark": {"type": "rule", "color": "#000000", "strokeDash": [6, 4], "strokeWidth": 1.5},
                     "encoding": {"x": {"field": "Ref", "type": "quantitative", "scale": {"domain": [0.013, 0.784], "nice": false, "zero": false}, "axis": {"title": null, "values": [0.1, 0.2, 0.3, 0.4, 0.5, 0.6, 0.7], "labelExpr": "abs(datum.value * 5 - round(datum.value * 5)) < 0.000001 ? format(datum.value, '.1f') : ''", "labels": true, "labelOpacity": 1, "labelFlush": false, "labelBound": false, "labelOverlap": false, "labelAngle": 0, "labelAlign": "center", "labelBaseline": "top", "grid": true}}}},
                    {"transform": [{"filter": "datum.kind === 'pt'"}], "mark": {"type": "circle", "size": 85, "opacity": 1},
                     "encoding": {"x": {"field": "Value", "type": "quantitative", "axis": {"title": null}}, "y": {"field": "Model", "type": "nominal", "scale": {"type": "point", "padding": 0.6, "domain": ["model4", "model3", "Model2", "Model1"]}, "axis": {"title": null, "grid": true, "labelExpr": "''", "labelPadding": 0}}, "color": {"field": "Quartile", "type": "nominal", "scale": {"domain": ["First", "Second", "Third"], "range": ["#F8766D", "#00BA38", "#619CFF"]}, "legend": null}}},
                    {"transform": [{"filter": "datum.kind === 'pt'"}], "mark": {"type": "text", "align": "right", "baseline": "middle", "dx": -6, "dy": -7, "fontSize": 23.5, "clip": true},
                     "encoding": {"x": {"field": "Value", "type": "quantitative", "axis": {"title": null}}, "y": {"field": "Model", "type": "nominal", "scale": {"type": "point", "padding": 0.6, "domain": ["model4", "model3", "Model2", "Model1"]}, "axis": null}, "text": {"field": "Label"}, "color": {"field": "Quartile", "type": "nominal", "scale": {"domain": ["First", "Second", "Third"], "range": ["#F8766D", "#00BA38", "#619CFF"]}, "legend": null}}},
                    {"transform": [{"filter": "datum.kind === 'cv'"}], "mark": {"type": "line", "interpolate": "basis", "color": "#ffee00", "opacity": 0.42, "strokeWidth": 8, "strokeCap": "butt", "strokeJoin": "round", "clip": false},
                     "encoding": {"x": {"field": "cx", "type": "quantitative", "axis": {"title": null}}, "y": {"field": "cy", "type": "quantitative", "scale": {"domain": [0.4, 4.6], "nice": false, "zero": false}, "axis": null}, "order": {"field": "cy", "sort": "descending"}}}
                  ],
                  "resolve": {"scale": {"y": "independent"}, "axis": {"y": "independent"}}
                }
              ]
            }
          ]
        }
      ]
    }
  ],
  "config": {
    "font": "Liberation Sans",
    "view": {"stroke": null},
    "axis": {"domain": false, "ticks": false, "gridColor": "#ebebeb", "gridWidth": 1.3, "labelColor": "#4d4d4d", "labelFont": "Liberation Sans", "labelFontSize": 20, "labelPadding": 14},
    "axisX": {"labelPadding": 20},
    "axisY": {"labelFontSize": 21},
    "title": {"font": "Open Sans", "fontWeight": "normal", "fontSize": 26.5, "color": "#000000"}
  }
}
